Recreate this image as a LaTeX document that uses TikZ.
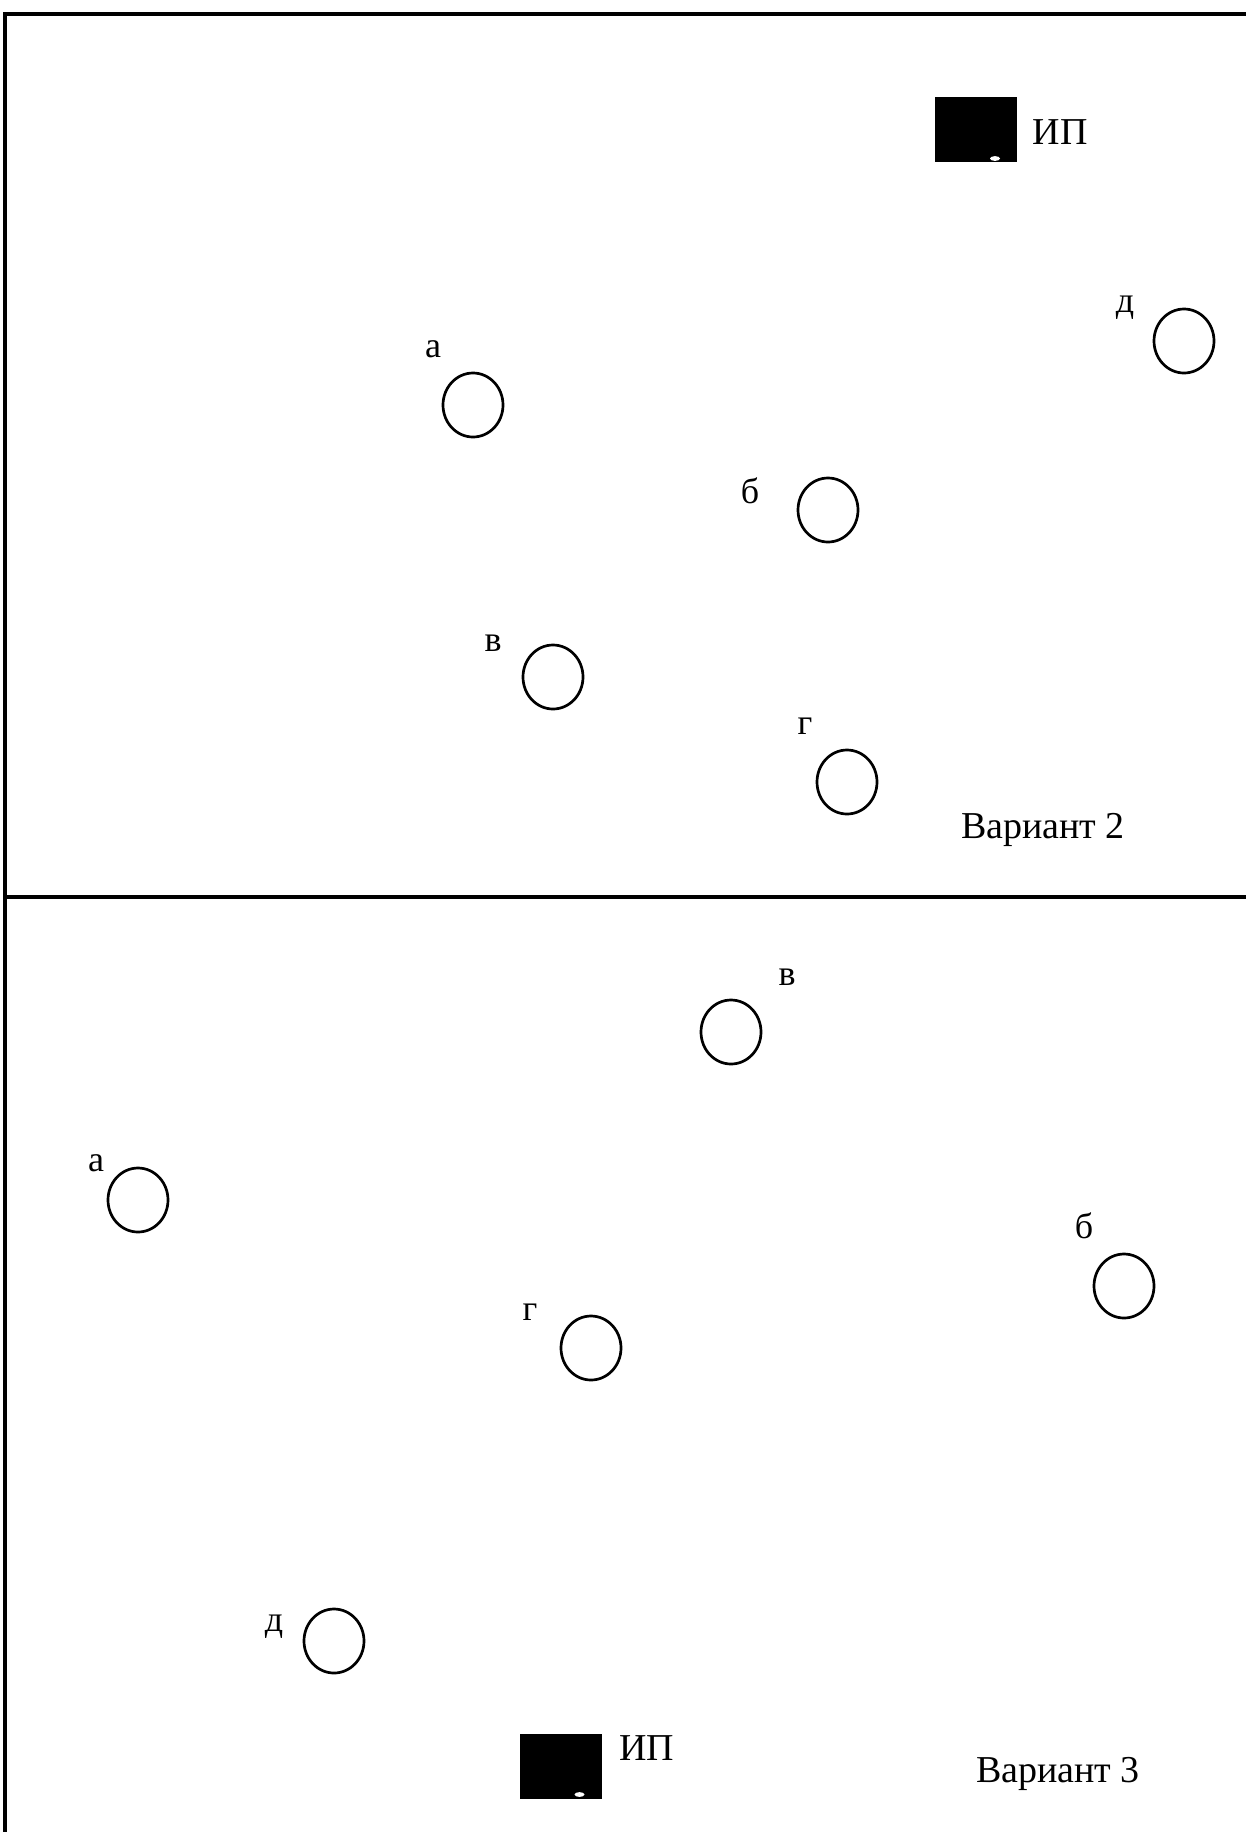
\documentclass[tikz,border=0pt]{standalone}
\usepackage{fontspec}
\setmainfont{Liberation Serif}
\usetikzlibrary{shapes.geometric,positioning}

\begin{document}
\begin{tikzpicture}[
    x=0.5pt, y=-0.5pt,
    well/.style={ellipse, draw, line width=1.35pt, minimum width=30pt, minimum height=32pt, inner sep=0pt},
    tag/.style={inner sep=0pt, font=\fontsize{18pt}{20pt}\selectfont},
    caption/.style={inner sep=0pt, anchor=base, font=\fontsize{19pt}{22pt}\selectfont},
    source/.style={rectangle, fill=black, minimum width=41pt, minimum height=32.5pt, inner sep=0pt}
]
\useasboundingbox (0,0) rectangle (1246,1832);

% Frame
\coordinate (tl) at (5,14);
\coordinate (tr) at (1246,14);
\coordinate (ml) at (5,897);
\coordinate (mr) at (1246,897);
\coordinate (bl) at (5,1832);
\draw[line width=1.6pt] (tr) -- (tl) -- (bl);
\draw[line width=1.6pt] (ml) -- (mr);

% Variant 2
\node[source] (ip2) at (976,129.5) {};
\fill[white] (995,158.5) ellipse (2.5pt and 1.2pt);
\node[caption, anchor=center] (ip2t) at (1060,132) {ИП};

\node[well] (a2) at (473,405) {};
\node[well] (b2) at (828,510) {};
\node[well] (v2) at (553,677) {};
\node[well] (g2) at (847,782) {};
\node[well] (d2) at (1184,341) {};

\node[tag] (a2t) at (433,349) {а};
\node[tag] (b2t) at (750,491) {б};
\node[tag] (v2t) at (493,643) {в};
\node[tag] (g2t) at (805,726) {г};
\node[tag] (d2t) at (1125,308) {д};

\node[caption] (var2) at (1043,838) {Вариант 2};

% Variant 3
\node[source] (ip3) at (561,1766) {};
\fill[white] (579.5,1794.5) ellipse (2.5pt and 1.2pt);
\node[caption, anchor=center] (ip3t) at (647,1748) {ИП};

\node[well] (a3) at (138,1200) {};
\node[well] (b3) at (1124,1286) {};
\node[well] (v3) at (731,1032) {};
\node[well] (g3) at (591,1348) {};
\node[well] (d3) at (334,1641) {};

\node[tag] (a3t) at (96,1163) {а};
\node[tag] (b3t) at (1084,1226) {б};
\node[tag] (v3t) at (787,977) {в};
\node[tag] (g3t) at (530,1312) {г};
\node[tag] (d3t) at (274,1627) {д};

\node[caption] (var3) at (1058,1782) {Вариант 3};

\end{tikzpicture}
\end{document}
